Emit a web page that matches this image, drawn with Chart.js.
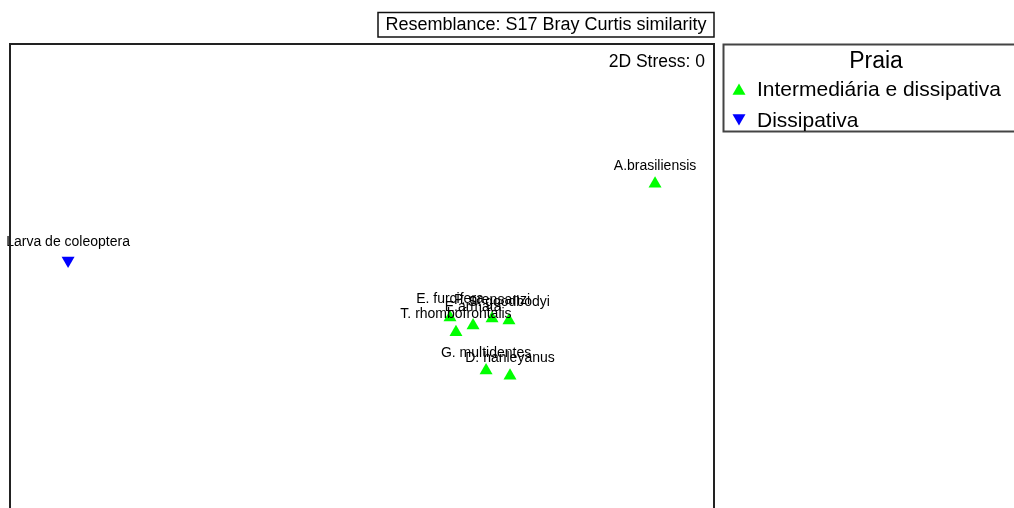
<!DOCTYPE html>
<html>
<head>
<meta charset="utf-8">
<script src="https://cdn.jsdelivr.net/npm/chart.js@4/dist/chart.umd.min.js"></script>
<style>
html,body{margin:0;padding:0;background:#fff;}
#wrap{width:1014px;height:508px;position:relative;}
</style>
</head>
<body>
<div id="wrap"><canvas id="c"></canvas></div>
<script>
// MDS coordinates
const groupNames = ["Intermediária e dissipativa", "Dissipativa"];
const interLabels = ["A.brasiliensis", "E. furcifera", "T. rhombofrontalis", "E.armata", "P. orensanzi", "S. goodbodyi", "G. multidentes", "D. hanleyanus"];
const interX = [1.665, 0.500, 0.534, 0.631, 0.739, 0.835, 0.705, 0.841];
const interY = [0.511, -0.261, -0.347, -0.307, -0.267, -0.278, -0.568, -0.597];
const dissLabels = ["Larva de coleoptera"];
const dissX = [-1.670];
const dissY = [0.068];
const titleText = "Resemblance: S17 Bray Curtis similarity";
const stressText = "2D Stress: 0";
const legendTitle = "Praia";

const FONT = '"Liberation Sans", Arial, Helvetica, sans-serif';

const labelsPlugin = {
  id: 'mdsDecor',
  afterDatasetsDraw(chart) {
    const ctx = chart.ctx;
    const ca = chart.chartArea;
    ctx.save();
    // point labels
    ctx.fillStyle = '#000';
    ctx.font = '14px ' + FONT;
    ctx.textAlign = 'center';
    ctx.textBaseline = 'alphabetic';
    chart.data.datasets.forEach((ds, di) => {
      const meta = chart.getDatasetMeta(di);
      meta.data.forEach((el, i) => {
        ctx.fillText(ds.pointLabels[i], el.x, el.y - 14);
      });
    });
    // plot frame
    ctx.strokeStyle = '#222';
    ctx.lineWidth = 2;
    ctx.strokeRect(ca.left, ca.top, ca.right - ca.left, ca.bottom - ca.top + 20);
    // stress
    ctx.font = '17.5px ' + FONT;
    ctx.textAlign = 'right';
    ctx.textBaseline = 'middle';
    ctx.fillText(stressText, ca.right - 9, 62);
    ctx.restore();
  },
  afterDraw(chart) {
    const ctx = chart.ctx;
    ctx.save();
    // title box
    ctx.strokeStyle = '#111';
    ctx.lineWidth = 1.5;
    ctx.strokeRect(378, 12.5, 336, 24.5);
    ctx.fillStyle = '#000';
    ctx.font = '18px ' + FONT;
    ctx.textAlign = 'center';
    ctx.textBaseline = 'middle';
    ctx.fillText(titleText, 546, 25.5);
    // legend box
    ctx.strokeStyle = '#444';
    ctx.lineWidth = 2;
    ctx.strokeRect(723.5, 44.5, 320, 87);
    ctx.fillStyle = '#000';
    ctx.font = '23px ' + FONT;
    ctx.textAlign = 'center';
    ctx.textBaseline = 'alphabetic';
    ctx.fillText(legendTitle, 876, 68);
    ctx.font = '21px ' + FONT;
    ctx.textAlign = 'left';
    ctx.fillText(groupNames[0], 757, 96);
    ctx.fillText(groupNames[1], 757, 127);
    // legend markers
    const r = 7.5;
    const tri = (x, y, down, color) => {
      ctx.beginPath();
      const s = down ? -1 : 1;
      ctx.moveTo(x, y - s * r);
      ctx.lineTo(x + r * Math.sqrt(3) / 2, y + s * r / 2);
      ctx.lineTo(x - r * Math.sqrt(3) / 2, y + s * r / 2);
      ctx.closePath();
      ctx.fillStyle = color;
      ctx.fill();
    };
    tri(739, 91, false, '#00ff00');
    tri(739, 118, true, '#0000ff');
    ctx.restore();
  }
};

const toPts = (xs, ys) => xs.map((x, i) => ({x: x, y: ys[i]}));

new Chart(document.getElementById('c'), {
  type: 'scatter',
  data: {
    datasets: [
      {
        label: groupNames[0],
        data: toPts(interX, interY),
        pointLabels: interLabels,
        pointStyle: 'triangle',
        pointRadius: 7.5,
        pointHoverRadius: 7.5,
        backgroundColor: '#00ff00',
        borderColor: '#00ff00',
        borderWidth: 0
      },
      {
        label: groupNames[1],
        data: toPts(dissX, dissY),
        pointLabels: dissLabels,
        pointStyle: 'triangle',
        rotation: 180,
        pointRadius: 7.5,
        pointHoverRadius: 7.5,
        backgroundColor: '#0000ff',
        borderColor: '#0000ff',
        borderWidth: 0
      }
    ]
  },
  options: {
    responsive: true,
    maintainAspectRatio: false,
    animation: false,
    layout: {padding: {left: 10, right: 300, top: 44, bottom: 0}},
    plugins: {legend: {display: false}, tooltip: {enabled: false}, title: {display: false}},
    scales: {
      x: {type: 'linear', min: -2, max: 2, display: false},
      y: {type: 'linear', min: -1.318, max: 1.318, display: false}
    }
  },
  plugins: [labelsPlugin]
});
</script>
</body>
</html>
